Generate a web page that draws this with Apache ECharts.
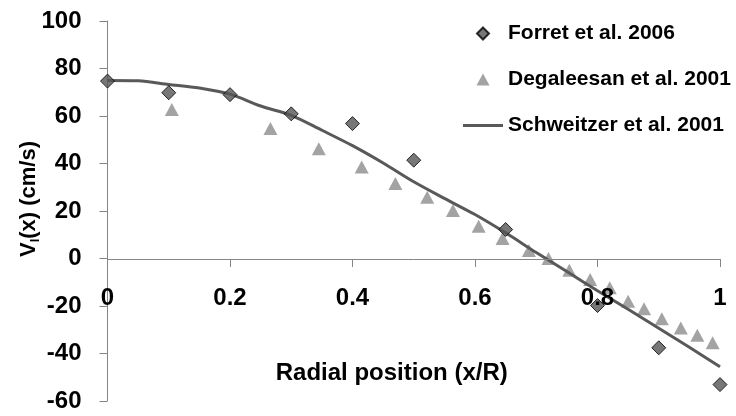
<!DOCTYPE html>
<html>
<head>
<meta charset="utf-8">
<script src="https://cdn.jsdelivr.net/npm/echarts@6/dist/echarts.min.js"></script>
<style>
  html, body { margin: 0; padding: 0; background: #fff; }
  #chart { width: 736px; height: 416px; }
</style>
</head>
<body>
<div id="chart"></div>
<script>
// Forret et al. 2006 (diamonds)
const forretX = [0, 0.1, 0.2, 0.3, 0.4, 0.5, 0.65, 0.8, 0.9, 1.0];
const forretY = [74.7, 69.8, 69.0, 60.9, 56.8, 41.4, 12.2, -19.8, -37.6, -53.1];

// Degaleesan et al. 2001 (triangles)
const degX = [0.105, 0.266, 0.345, 0.415, 0.47, 0.522, 0.564, 0.606, 0.645, 0.688,
  0.72, 0.754, 0.788, 0.82, 0.85, 0.876, 0.905, 0.936, 0.963, 0.988];
const degY = [62.7, 54.7, 46.2, 38.5, 31.6, 25.8, 20.2, 13.6, 8.4, 3.4,
  0, -4.9, -8.8, -12.3, -18, -21.2, -25.4, -29.3, -32.3, -35.5];

// Schweitzer et al. 2001 (line)
const schX = [0, 0.05, 0.1, 0.15, 0.2, 0.25, 0.3, 0.35, 0.4, 0.45, 0.5,
  0.55, 0.6, 0.65, 0.7, 0.75, 0.8, 0.85, 0.9, 0.95, 1.0];
const schY = [75, 74.8, 73.3, 71.8, 69.2, 64.2, 60.3, 54, 47.5, 40.2, 32.3,
  25.3, 18.5, 10.8, 2.5, -5.5, -13.6, -21.4, -29.4, -37.4, -45.6];

const seriesNames = ['Forret et al. 2006', 'Degaleesan et al. 2001', 'Schweitzer et al. 2001'];

const zip = (xs, ys) => xs.map((x, i) => [x, ys[i]]);

const font = 'Liberation Sans, Arial, sans-serif';
const axisGray = '#868686';

const myChart = echarts.init(document.getElementById('chart'));

const option = {
  animation: false,
  textStyle: { fontFamily: font },
  grid: {
    left: 107.5,
    right: 16,
    top: 21,
    bottom: 15,
    outerBoundsMode: 'none'
  },
  legend: {
    data: [
      { name: seriesNames[0], icon: 'path://M5,0L10,5L5,10L0,5Z' },
      { name: seriesNames[1], icon: 'path://M6,0L12,11L0,11Z' },
      { name: seriesNames[2], icon: 'path://M0,0L40,0L40,3L0,3Z' }
    ],
    orient: 'vertical',
    left: 458,
    top: 18,
    itemWidth: 40,
    itemHeight: 12,
    itemGap: 25,
    symbolKeepAspect: true,
    textStyle: {
      fontFamily: font,
      fontSize: 21,
      fontWeight: 'bold',
      color: '#000'
    }
  },
  xAxis: {
    type: 'value',
    min: 0,
    max: 1,
    interval: 0.2,
    position: 'bottom',
    offset: -142,
    z: 5,
    name: 'Radial position (x/R)',
    nameLocation: 'middle',
    nameGap: 102,
    nameMoveOverlap: false,
    nameTextStyle: {
      fontFamily: font,
      fontSize: 24,
      fontWeight: 'bold',
      color: '#000',
      padding: [0, 44, 0, 0]
    },
    axisLine: { onZero: false, lineStyle: { color: axisGray, width: 1 } },
    axisTick: { show: true, inside: false, length: 8, lineStyle: { color: axisGray } },
    axisLabel: {
      show: true,
      margin: 27,
      fontFamily: font,
      fontSize: 24,
      fontWeight: 'bold',
      color: '#000'
    },
    splitLine: { show: false }
  },
  yAxis: {
    type: 'value',
    min: -60,
    max: 100,
    interval: 20,
    name: '{v|V}{s|l}{v|(x) (cm/s)}',
    nameLocation: 'middle',
    nameGap: 66,
    nameMoveOverlap: false,
    nameTextStyle: {
      padding: [0, 0, 0, 24],
      rich: {
        v: { fontFamily: font, fontSize: 22, fontWeight: 'bold', color: '#000', lineHeight: 26 },
        s: { fontFamily: font, fontSize: 13, fontWeight: 'bold', color: '#000', lineHeight: 13, verticalAlign: 'bottom' }
      }
    },
    axisLine: { show: true, onZero: false, lineStyle: { color: axisGray, width: 1 } },
    axisTick: { show: true, inside: false, length: 8, lineStyle: { color: axisGray } },
    axisLabel: {
      margin: 26,
      fontFamily: font,
      fontSize: 24,
      fontWeight: 'bold',
      color: '#000'
    },
    splitLine: { show: false }
  },
  series: [
    {
      name: seriesNames[0],
      type: 'scatter',
      symbol: 'diamond',
      symbolSize: 14,
      z: 4,
      itemStyle: { color: '#555555', borderColor: '#000', borderWidth: 1 },
      data: zip(forretX, forretY)
    },
    {
      name: seriesNames[1],
      type: 'scatter',
      symbol: 'triangle',
      symbolSize: [14, 13],
      z: 2,
      itemStyle: { color: '#8c8c8c' },
      data: zip(degX, degY)
    },
    {
      name: seriesNames[2],
      type: 'line',
      symbol: 'none',
      smooth: 0.3,
      z: 3,
      lineStyle: { color: '#595959', width: 3 },
      itemStyle: { color: '#595959' },
      data: zip(schX, schY)
    }
  ]
};

myChart.setOption(option);
</script>
</body>
</html>
